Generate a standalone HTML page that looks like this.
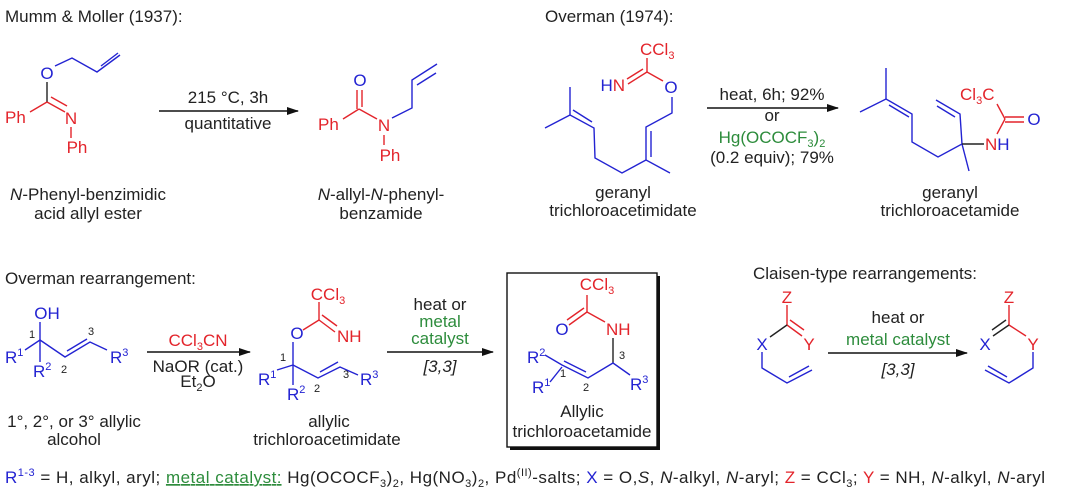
<!DOCTYPE html>
<html><head><meta charset="utf-8"><style>
html,body{margin:0;padding:0;background:#fff}
svg{display:block}
text{font-family:"Liberation Sans",sans-serif;font-size:17px;fill:#222}
.b{fill:#2323d2}.r{fill:#e3242b}.g{fill:#2d8c3c}
.s{font-size:11px}
.n{font-size:11px;fill:#222}
.lb line,.lb polyline{stroke:#2323d2}
.lr line,.lr polyline{stroke:#e3242b}
.lk line{stroke:#222}
line,polyline{stroke-width:1.4;fill:none}
</style></head><body>
<svg width="1080" height="502" viewBox="0 0 1080 502" xmlns="http://www.w3.org/2000/svg">
<defs><marker id="ah" markerWidth="12" markerHeight="8" refX="11" refY="4" orient="auto" markerUnits="userSpaceOnUse"><path d="M0,0 L12,4 L0,8 Z" fill="#111"/></marker></defs>

<text x="5" y="22">Mumm &amp; Moller (1937):</text>
<text x="545" y="22">Overman (1974):</text>
<text x="5" y="284">Overman rearrangement:</text>
<text x="753" y="279">Claisen-type rearrangements:</text>

<g class="lb"><polyline points="55,66 72,58 97,72 120,55"/><line x1="101" y1="66" x2="118" y2="53"/></g>
<g class="lk"><line x1="47" y1="82" x2="47" y2="102"/></g>
<g class="lr"><line x1="30" y1="112" x2="47" y2="102"/><line x1="47" y1="102" x2="65" y2="112"/><line x1="51" y1="97" x2="67" y2="106"/><line x1="71" y1="127" x2="71" y2="138"/></g>
<text class="b" x="47" y="79" text-anchor="middle">O</text>
<text class="r" x="5" y="123">Ph</text>
<text class="r" x="71" y="124" text-anchor="middle">N</text>
<text class="r" x="77" y="153" text-anchor="middle">Ph</text>

<line x1="159" y1="111" x2="298" y2="111" stroke="#111" marker-end="url(#ah)"/>
<text x="228" y="103" text-anchor="middle">215 °C, 3h</text>
<text x="228" y="129" text-anchor="middle">quantitative</text>

<g class="lr"><line x1="357" y1="90" x2="357" y2="109"/><line x1="362" y1="90" x2="362" y2="107"/><line x1="343" y1="119" x2="359" y2="109"/><line x1="359" y1="109" x2="377" y2="119"/><line x1="384" y1="135" x2="384" y2="145"/></g>
<g class="lb"><polyline points="392,118 412,108 412,80 437,64"/><line x1="417" y1="85" x2="436" y2="73"/></g>
<text class="b" x="360" y="86" text-anchor="middle">O</text>
<text class="r" x="318" y="130">Ph</text>
<text class="r" x="384" y="131" text-anchor="middle">N</text>
<text class="r" x="390" y="161" text-anchor="middle">Ph</text>

<text x="88" y="200" text-anchor="middle"><tspan font-style="italic">N</tspan>-Phenyl-benzimidic</text>
<text x="88" y="219" text-anchor="middle">acid allyl ester</text>
<text x="381" y="200" text-anchor="middle"><tspan font-style="italic">N</tspan>-allyl-<tspan font-style="italic">N</tspan>-phenyl-</text>
<text x="381" y="219" text-anchor="middle">benzamide</text>

<g class="lr"><line x1="647" y1="58" x2="647" y2="72"/><line x1="647" y1="72" x2="628" y2="84"/><line x1="643" y1="69" x2="627" y2="79"/><line x1="647" y1="72" x2="663" y2="81"/></g>
<g class="lb"><polyline points="672,97 672,113 646,127 646,160 670,173"/><line x1="651" y1="131" x2="651" y2="157"/><polyline points="646,160 622,173 595,158 594,128 570,115 570,87"/><line x1="592" y1="122" x2="573" y2="110"/><line x1="570" y1="115" x2="545" y2="128"/></g>
<text class="r" x="640" y="55">CCl<tspan class="s" dy="4">3</tspan></text>
<text x="625" y="91" text-anchor="end"><tspan class="b">H</tspan><tspan class="r">N</tspan></text>
<text class="b" x="671" y="93" text-anchor="middle">O</text>
<text x="623" y="198" text-anchor="middle">geranyl</text>
<text x="623" y="216" text-anchor="middle">trichloroacetimidate</text>

<line x1="707" y1="108" x2="838" y2="108" stroke="#111" marker-end="url(#ah)"/>
<text x="772" y="100" text-anchor="middle">heat, 6h; 92%</text>
<text x="772" y="121" text-anchor="middle">or</text>
<text class="g" x="772" y="143" text-anchor="middle">Hg(OCOCF<tspan class="s" dy="4">3</tspan><tspan dy="-4">)</tspan><tspan class="s" dy="4">2</tspan></text>
<text x="772" y="163" text-anchor="middle">(0.2 equiv); 79%</text>

<g class="lb"><polyline points="860,112 886,99 912,114 912,142 938,157 962,144 960,114 936,100"/><line x1="886" y1="68" x2="886" y2="99"/><line x1="889" y1="105" x2="909" y2="117"/><line x1="955" y1="117" x2="937" y2="106"/><line x1="962" y1="144" x2="969" y2="171"/></g>
<g class="lk"><line x1="962" y1="144" x2="984" y2="144"/></g>
<g class="lr"><line x1="997" y1="134" x2="1005" y2="119"/><line x1="997" y1="104" x2="1005" y2="119"/><line x1="1005" y1="117" x2="1024" y2="117"/><line x1="1005" y1="122" x2="1024" y2="122"/></g>
<text class="r" x="960" y="100">Cl<tspan class="s" dy="4">3</tspan><tspan dy="-4">C</tspan></text>
<text x="985" y="150"><tspan class="r">N</tspan><tspan class="b">H</tspan></text>
<text class="b" x="1034" y="125" text-anchor="middle">O</text>
<text x="950" y="198" text-anchor="middle">geranyl</text>
<text x="950" y="216" text-anchor="middle">trichloroacetamide</text>

<g class="lb"><line x1="40" y1="322" x2="40" y2="362"/><line x1="25" y1="350" x2="40" y2="340"/><polyline points="40,340 65,357 90,342 107,350"/><line x1="67" y1="351" x2="87" y2="339"/></g>
<text class="b" x="47" y="319" text-anchor="middle">OH</text>
<text class="n" x="32" y="338" text-anchor="middle">1</text>
<text class="n" x="91" y="335" text-anchor="middle">3</text>
<text class="n" x="64" y="373" text-anchor="middle">2</text>
<text class="b" x="5" y="363">R<tspan class="s" dy="-7">1</tspan></text>
<text class="b" x="33" y="377">R<tspan class="s" dy="-7">2</tspan></text>
<text class="b" x="110" y="363">R<tspan class="s" dy="-7">3</tspan></text>
<text x="74" y="427" text-anchor="middle">1°, 2°, or 3° allylic</text>
<text x="74" y="445" text-anchor="middle">alcohol</text>

<line x1="147" y1="352" x2="250" y2="352" stroke="#111" marker-end="url(#ah)"/>
<text class="r" x="198" y="346" text-anchor="middle">CCl<tspan class="s" dy="4">3</tspan><tspan dy="-4">CN</tspan></text>
<text x="198" y="372" text-anchor="middle">NaOR (cat.)</text>
<text x="198" y="387" text-anchor="middle">Et<tspan class="s" dy="4">2</tspan><tspan dy="-4">O</tspan></text>

<g class="lr"><line x1="319" y1="302" x2="319" y2="320"/><line x1="319" y1="320" x2="335" y2="332"/><line x1="322" y1="315" x2="337" y2="326"/><line x1="303" y1="330" x2="319" y2="320"/></g>
<g class="lb"><line x1="293" y1="342" x2="293" y2="385"/><line x1="277" y1="370" x2="293" y2="365"/><polyline points="293,365 318,378 340,367 358,375"/><line x1="320" y1="372" x2="338" y2="362"/></g>
<text class="r" x="328" y="300" text-anchor="middle">CCl<tspan class="s" dy="4">3</tspan></text>
<text class="b" x="297" y="339" text-anchor="middle">O</text>
<text class="r" x="337" y="342">NH</text>
<text class="n" x="283" y="361" text-anchor="middle">1</text>
<text class="n" x="317" y="392" text-anchor="middle">2</text>
<text class="n" x="346" y="378" text-anchor="middle">3</text>
<text class="b" x="258" y="385">R<tspan class="s" dy="-7">1</tspan></text>
<text class="b" x="287" y="400">R<tspan class="s" dy="-7">2</tspan></text>
<text class="b" x="360" y="385">R<tspan class="s" dy="-7">3</tspan></text>
<text x="329" y="427" text-anchor="middle">allylic</text>
<text x="327" y="445" text-anchor="middle">trichloroacetimidate</text>

<line x1="387" y1="352" x2="493" y2="352" stroke="#111" marker-end="url(#ah)"/>
<text x="440" y="310" text-anchor="middle">heat or</text>
<text class="g" x="440" y="327" text-anchor="middle">metal</text>
<text class="g" x="440" y="344" text-anchor="middle">catalyst</text>
<text x="440" y="372" text-anchor="middle" font-style="italic">[3,3]</text>

<rect x="510" y="276" width="150" height="174" fill="#111"/>
<rect x="507" y="273" width="150" height="174" fill="#fff" stroke="#111" stroke-width="1.4"/>
<g class="lr"><line x1="587" y1="295" x2="587" y2="312"/><line x1="587" y1="312" x2="569" y2="325"/><line x1="584" y1="308" x2="567" y2="320"/><line x1="587" y1="312" x2="605" y2="322"/></g>
<g class="lk"><line x1="613" y1="338" x2="613" y2="363"/></g>
<g class="lb"><polyline points="630,375 613,363 588,378 562,365 545,355"/><line x1="586" y1="372" x2="564" y2="361"/><line x1="562" y1="367" x2="550" y2="382"/></g>
<text class="r" x="597" y="290" text-anchor="middle">CCl<tspan class="s" dy="4">3</tspan></text>
<text class="b" x="562" y="335" text-anchor="middle">O</text>
<text class="r" x="606" y="335">NH</text>
<text class="n" x="622" y="359" text-anchor="middle">3</text>
<text class="n" x="586" y="391" text-anchor="middle">2</text>
<text class="n" x="563" y="377" text-anchor="middle">1</text>
<text class="b" x="527" y="363">R<tspan class="s" dy="-7">2</tspan></text>
<text class="b" x="532" y="393">R<tspan class="s" dy="-7">1</tspan></text>
<text class="b" x="630" y="390">R<tspan class="s" dy="-7">3</tspan></text>
<text x="582" y="417" text-anchor="middle">Allylic</text>
<text x="582" y="437" text-anchor="middle">trichloroacetamide</text>

<g class="lr"><line x1="787" y1="305" x2="787" y2="325"/><line x1="787" y1="325" x2="802" y2="336"/><line x1="790" y1="320" x2="804" y2="330"/></g>
<g class="lk"><line x1="770" y1="337" x2="787" y2="325"/></g>
<g class="lb"><polyline points="762,352 762,368 787,383 812,370"/><line x1="789" y1="377" x2="809" y2="366"/></g>
<text class="r" x="787" y="303" text-anchor="middle">Z</text>
<text class="b" x="762" y="350" text-anchor="middle">X</text>
<text class="r" x="809" y="350" text-anchor="middle">Y</text>

<line x1="828" y1="353" x2="967" y2="353" stroke="#111" marker-end="url(#ah)"/>
<text x="898" y="323" text-anchor="middle">heat or</text>
<text class="g" x="898" y="345" text-anchor="middle">metal catalyst</text>
<text x="898" y="375" text-anchor="middle" font-style="italic">[3,3]</text>

<g class="lr"><line x1="1009" y1="305" x2="1009" y2="325"/><line x1="1009" y1="325" x2="1026" y2="336"/></g>
<g class="lk"><line x1="1009" y1="325" x2="993" y2="336"/><line x1="1006" y1="320" x2="992" y2="330"/></g>
<g class="lb"><polyline points="1033,352 1033,368 1009,383 985,370"/><line x1="1007" y1="377" x2="988" y2="366"/></g>
<text class="r" x="1009" y="303" text-anchor="middle">Z</text>
<text class="b" x="985" y="350" text-anchor="middle">X</text>
<text class="r" x="1033" y="350" text-anchor="middle">Y</text>

<text x="5" y="483" textLength="1040" lengthAdjust="spacing"><tspan class="b">R</tspan><tspan class="b s" dy="-7">1-3</tspan><tspan dy="7"> = H, alkyl, aryl; </tspan><tspan class="g" text-decoration="underline">metal catalyst:</tspan><tspan> Hg(OCOCF</tspan><tspan class="s" dy="4">3</tspan><tspan dy="-4">)</tspan><tspan class="s" dy="4">2</tspan><tspan dy="-4">, Hg(NO</tspan><tspan class="s" dy="4">3</tspan><tspan dy="-4">)</tspan><tspan class="s" dy="4">2</tspan><tspan dy="-4">, Pd</tspan><tspan class="s" dy="-7">(II)</tspan><tspan dy="7">-salts; </tspan><tspan class="b">X</tspan><tspan> = O,</tspan><tspan font-style="italic">S</tspan><tspan>, </tspan><tspan font-style="italic">N</tspan><tspan>-alkyl, </tspan><tspan font-style="italic">N</tspan><tspan>-aryl; </tspan><tspan class="r">Z</tspan><tspan> = CCl</tspan><tspan class="s" dy="4">3</tspan><tspan dy="-4">; </tspan><tspan class="r">Y</tspan><tspan> = NH, </tspan><tspan font-style="italic">N</tspan><tspan>-alkyl, </tspan><tspan font-style="italic">N</tspan><tspan>-aryl</tspan></text>
</svg>
</body></html>
